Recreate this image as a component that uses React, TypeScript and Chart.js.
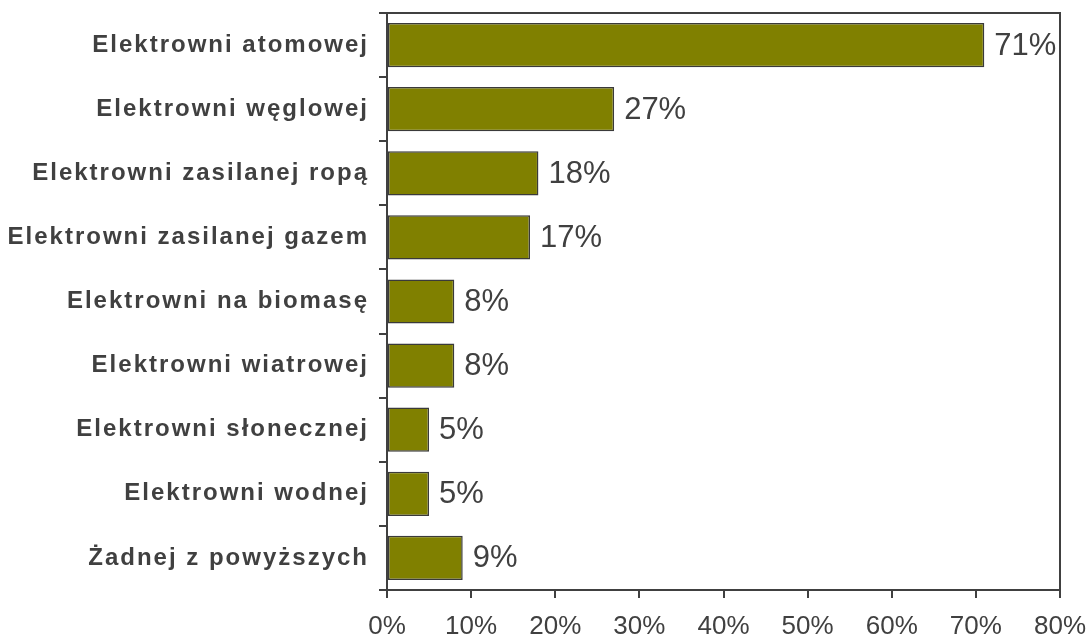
import React, { useEffect, useRef } from "react";
import { Chart, registerables } from "chart.js";

Chart.register(...registerables);

const categories = [
  "Elektrowni atomowej",
  "Elektrowni węglowej",
  "Elektrowni zasilanej ropą",
  "Elektrowni zasilanej gazem",
  "Elektrowni na biomasę",
  "Elektrowni wiatrowej",
  "Elektrowni słonecznej",
  "Elektrowni wodnej",
  "Żadnej z powyższych",
];
const values = [71, 27, 18, 17, 8, 8, 5, 5, 9];
const xTickValues = [0, 10, 20, 30, 40, 50, 60, 70, 80];

const TEXT = "#404040";
const AXIS = "#404040";

export default function App() {
  const ref = useRef<HTMLCanvasElement | null>(null);
  useEffect(() => {
    document.body.style.margin = "0";
    const canvas = ref.current!;
    const valueLabels = {
      id: "valueLabels",
      afterDatasetsDraw(chart: any) {
        const ctx = chart.ctx;
        const meta = chart.getDatasetMeta(0);
        ctx.save();
        ctx.font = '31px "Liberation Sans", Arial, sans-serif';
        ctx.fillStyle = TEXT;
        ctx.textAlign = "left";
        ctx.textBaseline = "middle";
        meta.data.forEach((el: any, i: number) => {
          ctx.fillText(values[i] + "%", el.x + 10, el.y + 1);
        });
        ctx.restore();
      },
    };
    const frame = {
      id: "frame",
      afterDraw(chart: any) {
        const { ctx, chartArea } = chart;
        ctx.save();
        ctx.strokeStyle = AXIS;
        ctx.lineWidth = 2;
        ctx.beginPath();
        ctx.moveTo(chartArea.left, chartArea.top);
        ctx.lineTo(chartArea.right, chartArea.top);
        ctx.lineTo(chartArea.right, chartArea.bottom);
        ctx.stroke();
        ctx.restore();
      },
    };
    const chart = new Chart(canvas, {
      type: "bar",
      data: {
        labels: categories,
        datasets: [
          {
            data: values,
            backgroundColor: "#808000",
            borderColor: "#3a3a3a",
            borderWidth: 1.5,
            borderSkipped: false,
            categoryPercentage: 1,
            barPercentage: 0.69,
          },
        ],
      },
      options: {
        indexAxis: "y",
        animation: false,
        responsive: false,
        maintainAspectRatio: false,
        layout: { padding: { top: 13, right: 30, left: 0, bottom: 0 } },
        plugins: {
          legend: { display: false },
          tooltip: { enabled: false },
        },
        scales: {
          x: {
            min: 0,
            max: 80,
            afterBuildTicks(scale: any) {
              scale.ticks = xTickValues.map((v) => ({ value: v }));
            },
            afterFit(scale: any) {
              scale.height = 48;
              scale.paddingLeft = 0;
              scale.paddingRight = 0;
            },
            ticks: {
              callback: (v: any) => v + "%",
              color: TEXT,
              font: { family: '"Liberation Sans", Arial, sans-serif', size: 26 },
              padding: 13,
              maxRotation: 0,
            },
            grid: {
              drawOnChartArea: false,
              drawTicks: true,
              tickLength: 8,
              color: AXIS,
              lineWidth: 2,
            },
            border: { color: AXIS, width: 2 },
          },
          y: {
            afterFit(scale: any) {
              scale.width = 387;
              scale.paddingTop = 0;
              scale.paddingBottom = 0;
              if (!scale.__patched) {
                scale.__patched = true;
                const orig = scale.drawLabels;
                scale.drawLabels = function (area: any) {
                  const ctx = this.ctx;
                  ctx.save();
                  (ctx as any).letterSpacing = "2px";
                  orig.call(this, area);
                  ctx.restore();
                };
              }
            },
            ticks: {
              color: TEXT,
              font: {
                family: '"Liberation Sans", Arial, sans-serif',
                size: 24,
                weight: "bold",
              },
              padding: 10,
              autoSkip: false,
            },
            grid: {
              offset: true,
              drawOnChartArea: false,
              drawTicks: true,
              tickLength: 8,
              color: AXIS,
              lineWidth: 2,
            },
            border: { color: AXIS, width: 2 },
          },
        },
      } as any,
      plugins: [valueLabels, frame],
    });
    return () => chart.destroy();
  }, []);
  return (
    <div style={{ width: 1090, height: 638, background: "#fff" }}>
      <canvas ref={ref} width={1090} height={638} style={{ display: "block" }} />
    </div>
  );
}
